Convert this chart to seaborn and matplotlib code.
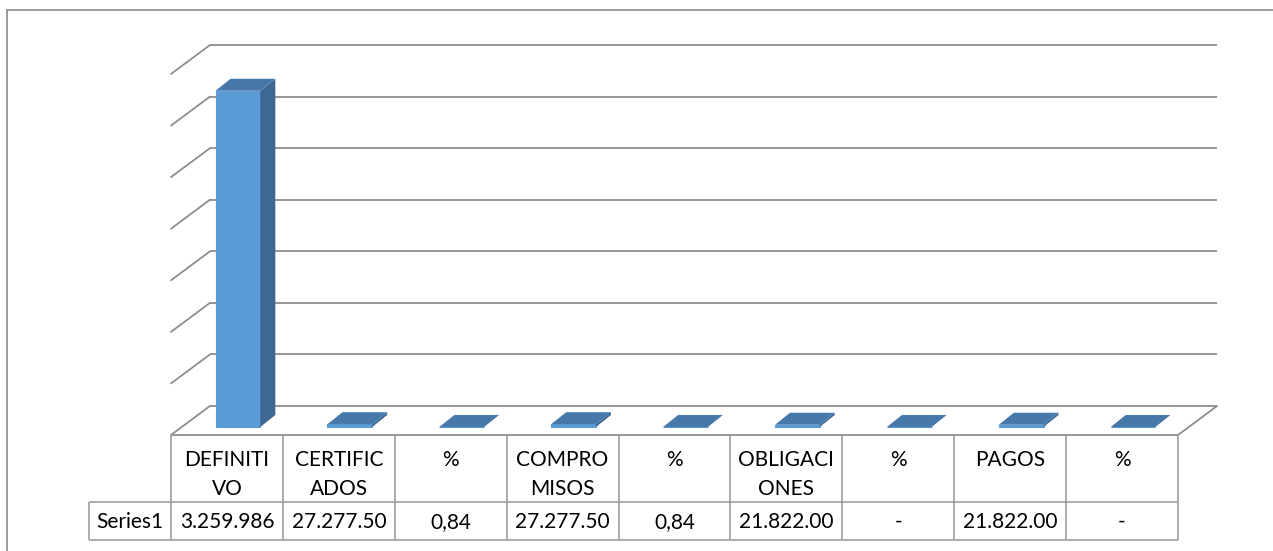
import matplotlib
matplotlib.use("Agg")
import matplotlib.pyplot as plt
from matplotlib.lines import Line2D
from matplotlib.patches import Polygon
from matplotlib.transforms import Affine2D, IdentityTransform
import numpy as np
import seaborn as sns

# data
categories = ["DEFINITIVO", "CERTIFICADOS", "%", "COMPROMISOS", "%",
              "OBLIGACIONES", "%", "PAGOS", "%"]
header_labels = ["DEFINITI\nVO", "CERTIFIC\nADOS", "%", "COMPRO\nMISOS", "%",
                 "OBLIGACI\nONES", "%", "PAGOS", "%"]
values = [3259986, 27277.50, 0.84, 27277.50, 0.84, 21822.00, 0, 21822.00, 0]
value_labels = ["3.259.986", "27.277.50", "0,84", "27.277.50", "0,84",
                "21.822.00", "-", "21.822.00", "-"]
series_name = "Series1"
y_ticks = np.arange(0, 3500001, 500000)

W, H = 1273, 551
FRONT = "#5B9BD5"
TOP = "#4678AA"
SIDE = "#3C6893"
GRID = "#8E8E8E"
TABLE = "#9E9E9E"
FS = 15

sns.set_theme(style="white")
plt.rcParams["font.family"] = ["Lato", "DejaVu Sans"]

fig = plt.figure(figsize=(W / 100, H / 100), dpi=100)
fig.patch.set_facecolor("white")

# front plane of the 3D box
ax = fig.add_axes([171 / W, 116 / H, 1007 / W, 361 / H])
ax.axis("off")


def shifted(dx, dy):
    return ax.transData + Affine2D().translate(dx, dy)


sns.barplot(x=np.arange(len(values)), y=values, color=FRONT, width=0.4,
            saturation=1, errorbar=None, ax=ax, zorder=3)
ax.set_xlim(-0.5, len(values) - 0.5)
ax.set_ylim(0, y_ticks[-1])
ax.set_autoscale_on(False)

wall = shifted(39, 29)
bar_front = shifted(11, 8)
bar_back = shifted(26, 20)
ident = IdentityTransform()
x_lo, x_hi = -0.5, len(values) - 0.5

# back wall grid + side wall diagonals
ax.hlines(y_ticks, x_lo, x_hi, colors=GRID, lw=1.3, transform=wall,
          clip_on=False, zorder=1)
for v in y_ticks:
    p0 = ax.transData.transform((x_lo, v))
    p1 = wall.transform((x_lo, v))
    ax.add_line(Line2D([p0[0], p1[0]], [p0[1], p1[1]], color=GRID, lw=1.3,
                       transform=ident, clip_on=False, zorder=1))
p0 = ax.transData.transform((x_hi, 0))
p1 = wall.transform((x_hi, 0))
ax.add_line(Line2D([p0[0], p1[0]], [p0[1], p1[1]], color=GRID, lw=1.3,
                   transform=ident, clip_on=False, zorder=1))

# give the seaborn bars depth
for patch in list(ax.patches):
    patch.set_transform(bar_front)
    patch.set_edgecolor(FRONT)
    patch.set_linewidth(0.8)
    patch.set_clip_on(False)
    x0 = patch.get_x()
    x1 = x0 + patch.get_width()
    h = patch.get_height()
    top = [bar_front.transform((x0, h)), bar_front.transform((x1, h)),
           bar_back.transform((x1, h)), bar_back.transform((x0, h))]
    side = [bar_front.transform((x1, 0)), bar_back.transform((x1, 0)),
            bar_back.transform((x1, h)), bar_front.transform((x1, h))]
    ax.add_patch(Polygon(side, closed=True, facecolor=SIDE, edgecolor="none",
                         transform=ident, clip_on=False, zorder=3))
    ax.add_patch(Polygon(top, closed=True, facecolor=TOP, edgecolor="none",
                         transform=ident, clip_on=False, zorder=4))

# data table under the chart (y in pixels below the floor edge)
tax = fig.add_axes([171 / W, 11 / H, 1007 / W, 105 / H])
tax.set_xlim(x_lo, x_hi)
tax.set_ylim(105, 0)
tax.axis("off")
label_left = x_lo - 82 / 112

tax.hlines(0, x_lo, x_hi, colors=GRID, lw=1.3, clip_on=False)
tax.hlines([67, 105], label_left, x_hi, colors=TABLE, lw=1.2, clip_on=False)
tax.vlines(np.arange(len(values) + 1) - 0.5, 0, 105, colors=TABLE, lw=1.2,
           clip_on=False)
tax.vlines(label_left, 67, 105, colors=TABLE, lw=1.2, clip_on=False)

for i, (lab, val) in enumerate(zip(header_labels, value_labels)):
    for j, line in enumerate(lab.split("\n")):
        tax.text(i, 31 + 29 * j, line, ha="center", va="baseline",
                 fontsize=FS, color="#000000")
    tax.text(i, 93, val, ha="center", va="baseline", fontsize=FS,
             color="#000000")
tax.text((label_left + x_lo) / 2, 93, series_name, ha="center",
         va="baseline", fontsize=FS, color="#000000")

# chart area border (only top and left are inside the picture)
fig.add_artist(Line2D([7 / W, 1], [1 - 9.5 / H, 1 - 9.5 / H], color="#8A8A8A",
                      lw=1.2, transform=fig.transFigure))
fig.add_artist(Line2D([7 / W, 7 / W], [0, 1 - 9.5 / H], color="#8A8A8A",
                      lw=1.2, transform=fig.transFigure))

fig.savefig("out.png", dpi=100, facecolor="white")
